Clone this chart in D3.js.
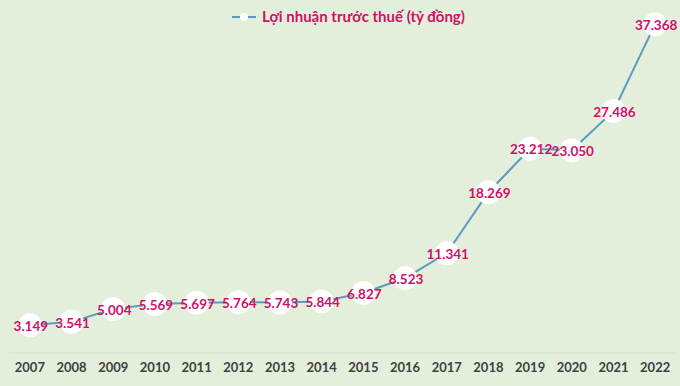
<!DOCTYPE html>
<html>
<head>
<meta charset="utf-8">
<script src="https://cdn.jsdelivr.net/npm/d3@7"></script>
<style>
  body { margin: 0; background: #e3efda; }
  #chart { width: 680px; height: 386px; }
</style>
</head>
<body>
<div id="chart"></div>
<script>
// Dữ liệu
const years = ["2007","2008","2009","2010","2011","2012","2013","2014","2015","2016","2017","2018","2019","2020","2021","2022"];
const profit = [3.149, 3.541, 5.004, 5.569, 5.697, 5.764, 5.743, 5.844, 6.827, 8.523, 11.341, 18.269, 23.212, 23.050, 27.486, 37.368];
const seriesName = "Lợi nhuận trước thuế (tỷ đồng)";

const fmt = v => v.toFixed(3);

const width = 680, height = 386;
const margin = { top: 1, right: 4, bottom: 33, left: 9 };

const svg = d3.select("#chart").append("svg")
  .attr("width", width)
  .attr("height", height);

svg.append("rect")
  .attr("width", width).attr("height", height)
  .attr("fill", "#e3efda");

const data = years.map((y, i) => ({ year: y, value: profit[i] }));

// Skala X
const x = d3.scaleBand()
  .domain(years)
  .range([margin.left, width - margin.right]);

// Skala Y
const y = d3.scaleLinear()
  .domain([0, 40])
  .range([height - margin.bottom, margin.top]);

const cx = d => x(d.year) + x.bandwidth() / 2;

// Baseline
svg.append("line")
  .attr("x1", margin.left).attr("x2", width - margin.right)
  .attr("y1", y(0)).attr("y2", y(0))
  .attr("stroke", "#d4e2cb")
  .attr("stroke-width", 1);

// Oś X
const xAxis = svg.append("g")
  .attr("transform", `translate(0,${y(0)})`)
  .call(d3.axisBottom(x).tickSize(0).tickPadding(10));
xAxis.select(".domain").remove();
xAxis.selectAll("text")
  .attr("fill", "#404040")
  .style("font-family", "Lato, 'Open Sans', sans-serif")
  .style("font-weight", "bold")
  .style("font-size", "13px");

// Linia
const line = d3.line()
  .x(cx)
  .y(d => y(d.value));

svg.append("path")
  .datum(data)
  .attr("fill", "none")
  .attr("stroke", "#5a9bbf")
  .attr("stroke-width", 2)
  .attr("d", line);

// Kropki
svg.selectAll(".dot")
  .data(data)
  .enter().append("circle")
  .attr("class", "dot")
  .attr("cx", cx)
  .attr("cy", d => y(d.value))
  .attr("r", 12)
  .attr("fill", "#ffffff");

// Etykiety
svg.selectAll(".label")
  .data(data)
  .enter().append("text")
  .attr("class", "label")
  .attr("x", d => cx(d) + 1)
  .attr("y", d => y(d.value) + 1)
  .attr("dy", "0.35em")
  .attr("text-anchor", "middle")
  .text(d => fmt(d.value))
  .style("fill", "#d0106a")
  .style("font-family", "Lato, 'Open Sans', sans-serif")
  .style("font-weight", "bold")
  .style("font-size", "13.5px");

// Legenda
const legend = svg.append("g").attr("transform", "translate(232,17)");
legend.append("line")
  .attr("x1", 0).attr("x2", 24)
  .attr("y1", 0).attr("y2", 0)
  .attr("stroke", "#5a9bbf")
  .attr("stroke-width", 2);
legend.append("circle")
  .attr("cx", 12).attr("cy", 0).attr("r", 4)
  .attr("fill", "#ffffff");
legend.append("text")
  .attr("x", 30).attr("y", 0)
  .attr("dy", "0.35em")
  .text(seriesName)
  .style("fill", "#d0106a")
  .style("font-family", "Lato, 'Open Sans', sans-serif")
  .style("font-weight", "bold")
  .style("font-size", "15px");
</script>
</body>
</html>
